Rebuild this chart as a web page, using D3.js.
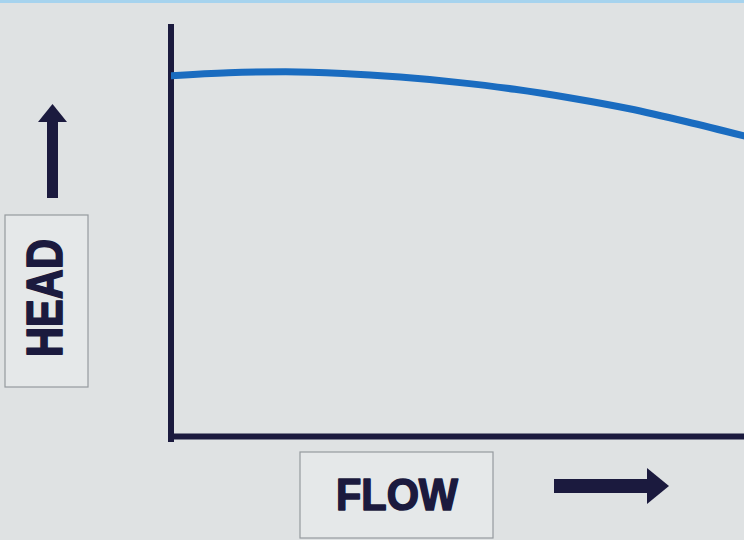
<!DOCTYPE html>
<html>
<head>
<meta charset="utf-8">
<script src="https://cdn.jsdelivr.net/npm/d3@7"></script>
<style>
  html, body { margin: 0; padding: 0; background: #dfe2e3; }
  svg { display: block; }
</style>
</head>
<body>
<svg id="chart" width="744" height="540"></svg>
<script>
// pump curve (no units shown)
const flow = [0, 10, 20, 30, 40, 50, 60, 70, 80, 90, 100];
const head = [88.7, 89.5, 89.7, 89.3, 88.4, 87.1, 85.4, 83.2, 80.6, 77.4, 73.9];
const x_label = "FLOW";
const y_label = "HEAD";

let svg = d3.select('#chart');
let width = 744, height = 540;
let ink = '#1b1a3e';

let x = d3.scaleLinear().domain([0, 100]).range([171, 744]);
let y = d3.scaleLinear().domain([0, 100]).range([436, 30]);

svg.append('rect').attr('width', width).attr('height', height).attr('fill', '#dfe2e3');
// screen edge at top
svg.append('rect').attr('width', width).attr('height', 3).attr('fill', '#a6d3ee');

// axes: plain lines, no ticks
let xAxis = d3.axisBottom(x).tickValues([]).tickSizeOuter(0);
let yAxis = d3.axisLeft(y).tickValues([]).tickSizeOuter(0);
let gx = svg.append('g').attr('transform', 'translate(0,' + y(0) + ')').call(xAxis);
let gy = svg.append('g').attr('transform', 'translate(' + x(0) + ',0)').call(yAxis);
gy.select('.domain').attr('d', 'M0,' + (y(100) - 3) + 'V' + (y(0) + 3));
[gx, gy].forEach(g => g.select('.domain').attr('stroke', ink).attr('stroke-width', 6).attr('stroke-linecap', 'square'));

// curve
svg.append('clipPath').attr('id', 'plot')
  .append('rect').attr('x', x(0)).attr('y', 0).attr('width', width - x(0)).attr('height', y(0));
let line = d3.line().x((d, i) => x(flow[i])).y(d => y(d)).curve(d3.curveMonotoneX);
svg.append('path').datum(head)
  .attr('clip-path', 'url(#plot)')
  .attr('d', line)
  .attr('fill', 'none').attr('stroke', '#1a6cc0').attr('stroke-width', 7).attr('stroke-linecap', 'round');

// label boxes
function box(bx, by, bw, bh){
  svg.append('rect').attr('x', bx).attr('y', by).attr('width', bw).attr('height', bh)
    .attr('fill', '#e5e8e9').attr('stroke', '#959a9e').attr('stroke-width', 1.2);
}
box(5, 215, 83, 172);
box(300, 452, 193, 86);

function label(sel){
  sel.attr('text-anchor', 'middle')
    .attr('font-family', 'Liberation Sans, Arial, sans-serif').attr('font-weight', 'bold')
    .attr('fill', ink).attr('stroke', ink).attr('stroke-width', 1.6).attr('stroke-linejoin', 'round')
    .attr('lengthAdjust', 'spacingAndGlyphs');
}
svg.append('text').text(y_label)
  .attr('transform', 'translate(62,298) rotate(-90)')
  .attr('font-size', 50).attr('textLength', 118)
  .call(label);

svg.append('text').text(x_label)
  .attr('x', 397).attr('y', 510)
  .attr('font-size', 44).attr('textLength', 122)
  .call(label);

// arrows
svg.append('rect').attr('x', 47).attr('y', 118).attr('width', 11).attr('height', 80).attr('fill', ink);
svg.append('path').attr('d', 'M52.5,104 L67,122 L38,122 Z').attr('fill', ink);
svg.append('rect').attr('x', 554).attr('y', 479).attr('width', 96).attr('height', 14).attr('fill', ink);
svg.append('path').attr('d', 'M669,486 L647,468 L647,504 Z').attr('fill', ink);
</script>
</body>
</html>
